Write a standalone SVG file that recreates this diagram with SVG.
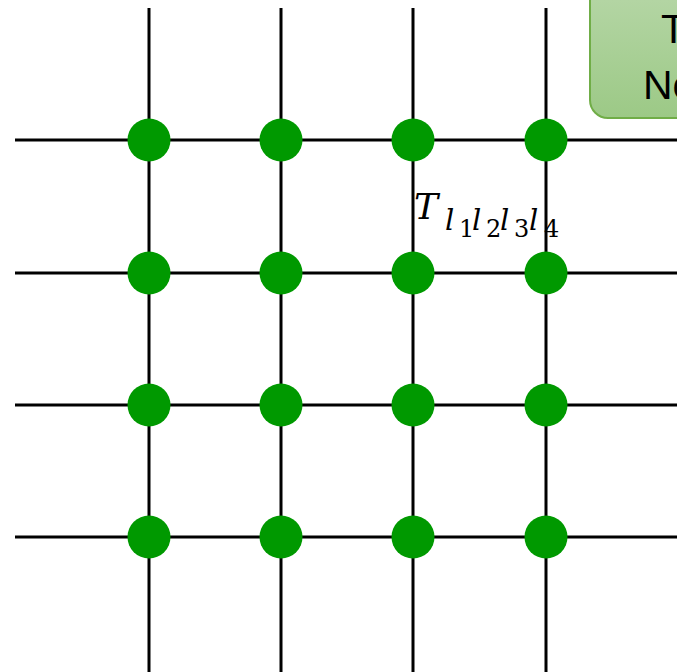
<svg xmlns="http://www.w3.org/2000/svg" width="677" height="672" viewBox="0 0 677 672">
<defs>
<linearGradient id="g" x1="0" y1="0" x2="0" y2="1">
<stop offset="0" stop-color="#b7d7a8"/>
<stop offset="1" stop-color="#9cc986"/>
</linearGradient>
</defs>
<style>
.ln{stroke:#000;stroke-width:3;fill:none}
.nd{fill:#009900}
.lbl{font-family:"Liberation Sans",Arial,sans-serif;font-size:41px;fill:#000}
.m{font-family:"DejaVu Serif","Liberation Serif",serif;fill:#000}
.i{font-style:italic}
</style>
<g id="connectors">
<line class="ln" x1="149" y1="8" x2="149" y2="672"/>
<line class="ln" x1="281" y1="8" x2="281" y2="672"/>
<line class="ln" x1="413" y1="8" x2="413" y2="672"/>
<line class="ln" x1="546" y1="8" x2="546" y2="672"/>
<line class="ln" x1="15" y1="140" x2="677" y2="140"/>
<line class="ln" x1="15" y1="273" x2="677" y2="273"/>
<line class="ln" x1="15" y1="405" x2="677" y2="405"/>
<line class="ln" x1="15" y1="537" x2="677" y2="537"/>
</g>
<g id="nodes">
<circle class="nd" cx="149" cy="140" r="21.5"/><circle class="nd" cx="281" cy="140" r="21.5"/><circle class="nd" cx="413" cy="140" r="21.5"/><circle class="nd" cx="546" cy="140" r="21.5"/>
<circle class="nd" cx="149" cy="273" r="21.5"/><circle class="nd" cx="281" cy="273" r="21.5"/><circle class="nd" cx="413" cy="273" r="21.5"/><circle class="nd" cx="546" cy="273" r="21.5"/>
<circle class="nd" cx="149" cy="405" r="21.5"/><circle class="nd" cx="281" cy="405" r="21.5"/><circle class="nd" cx="413" cy="405" r="21.5"/><circle class="nd" cx="546" cy="405" r="21.5"/>
<circle class="nd" cx="149" cy="537" r="21.5"/><circle class="nd" cx="281" cy="537" r="21.5"/><circle class="nd" cx="413" cy="537" r="21.5"/><circle class="nd" cx="546" cy="537" r="21.5"/>
</g>
<g id="label-box">
<rect x="590" y="-20" width="140" height="138" rx="18" fill="url(#g)" stroke="#70ad47" stroke-width="2"/>
<text class="lbl" x="661" y="43">T</text>
<text class="lbl" x="643" y="99">No</text>
</g>
<g id="tensor-label">
<text class="m"><tspan class="i" x="414" y="219" font-size="36">T</tspan><tspan class="i" x="445" y="230" font-size="29">l</tspan><tspan x="459" y="237" font-size="24">1</tspan><tspan class="i" x="472" y="230" font-size="29">l</tspan><tspan x="486" y="237" font-size="24">2</tspan><tspan class="i" x="500" y="230" font-size="29">l</tspan><tspan x="514" y="237" font-size="24">3</tspan><tspan class="i" x="529" y="230" font-size="29">l</tspan><tspan x="544" y="237" font-size="24">4</tspan></text>
</g>
</svg>
